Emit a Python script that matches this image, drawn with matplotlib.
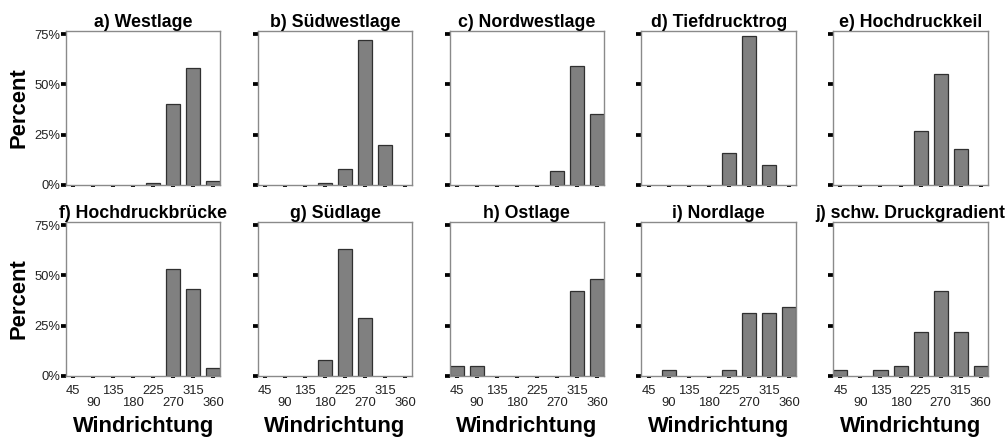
import numpy as np
import matplotlib
matplotlib.use('Agg')
import matplotlib.pyplot as plt

plt.rcParams['font.family'] = ['Liberation Sans', 'DejaVu Sans']

# wind direction classes (degrees)
categories = ['45', '90', '135', '180', '225', '270', '315', '360']

# percent of days per wind direction, one list per weather type
westlage = [0, 0, 0, 0, 1, 40, 58, 2]
suedwestlage = [0, 0, 0, 1, 8, 72, 20, 0]
nordwestlage = [0, 0, 0, 0, 0, 7, 59, 35]
tiefdrucktrog = [0, 0, 0, 0, 16, 74, 10, 0]
hochdruckkeil = [0, 0, 0, 0, 27, 55, 18, 0]
hochdruckbruecke = [0, 0, 0, 0, 0, 53, 43, 4]
suedlage = [0, 0, 0, 8, 63, 29, 0, 0]
ostlage = [5, 5, 0, 0, 0, 0, 42, 48]
nordlage = [0, 3, 0, 0, 3, 31, 31, 34]
schwach = [3, 0, 3, 5, 22, 42, 22, 5]

titles = ['a) Westlage', 'b) Südwestlage', 'c) Nordwestlage', 'd) Tiefdrucktrog',
          'e) Hochdruckkeil', 'f) Hochdruckbrücke', 'g) Südlage', 'h) Ostlage',
          'i) Nordlage', 'j) schw. Druckgradient']
panels = [westlage, suedwestlage, nordwestlage, tiefdrucktrog, hochdruckkeil,
          hochdruckbruecke, suedlage, ostlage, nordlage, schwach]

y_ticks = [0, 25, 50, 75]
y_labels = ['0%', '25%', '50%', '75%']

fig = plt.figure(figsize=(10.07, 4.37), dpi=100)

left0 = 66 / 1007
step = 191.8 / 1007
width = 154.5 / 1007
height = 0.352
bottoms = [0.577, 0.140]

x = np.arange(len(categories))
# alternate tick labels on two rows
xlabels = [c if i % 2 == 0 else '\n' + c for i, c in enumerate(categories)]

for k, (title, vals) in enumerate(zip(titles, panels)):
    row, col = divmod(k, 5)
    ax = fig.add_axes([left0 + col * step, bottoms[row], width, height])
    vals = np.array(vals)
    keep = vals > 0
    ax.bar(x[keep], vals[keep], width=0.7, color='#808080',
           edgecolor='#303030', linewidth=0.9, zorder=2)
    ax.set_xlim(-0.36, 7.35)
    ax.set_ylim(0, 76.5)
    for s in ax.spines.values():
        s.set_color('#8a8a8a')
        s.set_linewidth(1.0)
    ax.set_yticks(y_ticks)
    ax.set_xticks(x)
    ax.tick_params(axis='y', direction='out', length=3.4, width=2.7,
                   color='black', pad=0.5, labelsize=9.4, labelcolor='#222222')
    ax.tick_params(axis='x', direction='out', length=1.6, width=2.9,
                   color='black', pad=5, labelsize=9.4, labelcolor='#222222')
    if col == 0:
        ax.set_yticklabels(y_labels)
        ax.set_ylabel('Percent', fontsize=15.8, fontweight='bold', labelpad=4)
    else:
        ax.set_yticklabels([])
    if row == 1:
        ax.set_xticklabels(xlabels, linespacing=1.0)
        ax.set_xlabel('Windrichtung', fontsize=15.8, fontweight='bold', labelpad=5)
    else:
        ax.set_xticklabels([])
    ax.set_title(title, fontsize=12.8, fontweight='bold', pad=3)

fig.savefig('out.png', dpi=100)
